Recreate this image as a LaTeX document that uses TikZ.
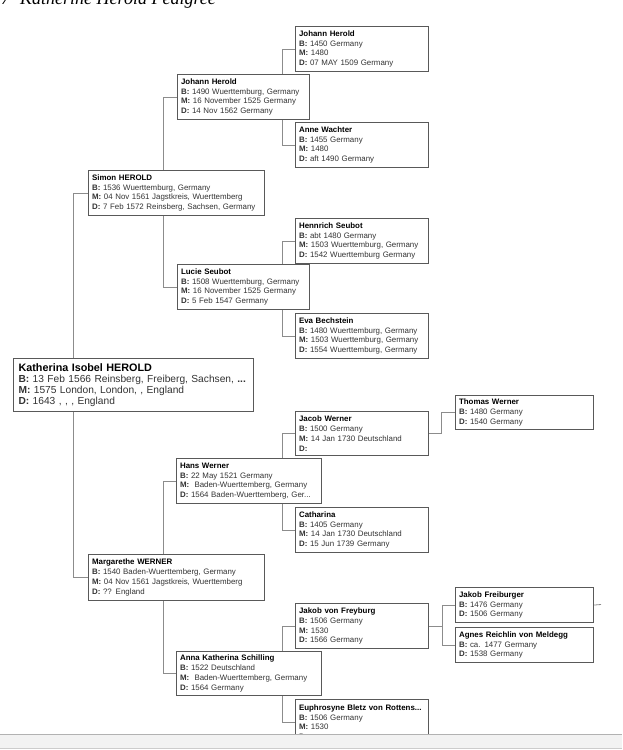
\documentclass[tikz,border=0pt]{standalone}
\usepackage{fontspec}
\setmainfont{Liberation Sans}
\newfontfamily\titlefont{Liberation Serif}
\usepackage{tikz}
\usetikzlibrary{backgrounds}
\usepackage[dvipsnames]{xcolor}

\tikzset{
    pbox/.style={draw=black!65,line width=1.1pt,fill=white,anchor=north west,
        align=left,inner xsep=3.5pt,inner ysep=0pt,text=black!80,
        font=\fontsize{7.9}{9.8}\selectfont},
    link/.style={draw=black!45,line width=0.8pt}
}
\newcommand{\nm}[1]{\textbf{\textcolor{black}{#1}}}
\newcommand{\lb}[1]{\textbf{#1:}}

\begin{document}
\begin{tikzpicture}[x=1pt,y=-1pt]
        \useasboundingbox (0,0) rectangle (622,750);
        \clip (0,0) rectangle (622,750);

        % title, cut at the top of the page
        \node[anchor=base west,inner sep=0pt,font=\titlefont\itshape\fontsize{18}{20}\selectfont]
            (title) at (1,4) {7\hspace{10pt}Katherine Herold Pedigree};

        \begin{scope}[every node/.style={pbox}]
            % generation 0
            \node[minimum width=240,minimum height=53,inner xsep=5pt,text width=230,
                font=\fontsize{10.2}{10.8}\selectfont] (K) at (13,358)
                {\nm{\fontsize{10.8}{11}\selectfont Katherina Isobel HEROLD}\\
                 \lb{B} 13 Feb 1566 Reinsberg, Freiberg, Sachsen, \textbf{...}\\
                 \lb{M} 1575 London, London, , England\\
                 \lb{D} 1643 , , , England};

            % generation 1
            \node[minimum width=176,minimum height=45,text width=169] (S1) at (88,170)
                {\nm{Simon HEROLD}\\ \lb{B} 1536 Wuerttemburg, Germany\\
                 \lb{M} 04 Nov 1561 Jagstkreis, Wuerttemberg\\
                 \lb{D} 7 Feb 1572 Reinsberg, Sachsen, Germany};
            \node[minimum width=176,minimum height=46,text width=169] (M1) at (88,554)
                {\nm{Margarethe WERNER}\\ \lb{B} 1540 Baden-Wuerttemberg, Germany\\
                 \lb{M} 04 Nov 1561 Jagstkreis, Wuerttemberg\\
                 \lb{D} ?? England};

            % generation 2
            \node[minimum width=132,minimum height=45,text width=125] (J2) at (177,74)
                {\nm{Johann Herold}\\ \lb{B} 1490 Wuerttemburg, Germany\\
                 \lb{M} 16 November 1525 Germany\\ \lb{D} 14 Nov 1562 Germany};
            \node[minimum width=132,minimum height=45,text width=125] (L2) at (177,264)
                {\nm{Lucie Seubot}\\ \lb{B} 1508 Wuerttemburg, Germany\\
                 \lb{M} 16 November 1525 Germany\\ \lb{D} 5 Feb 1547 Germany};
            \node[minimum width=145,minimum height=45,text width=138] (H2) at (176,458)
                {\nm{Hans Werner}\\ \lb{B} 22 May 1521 Germany\\
                 \lb{M}\ \ Baden-Wuerttemberg, Germany\\
                 \lb{D} 1564 Baden-Wuerttemberg, Ger...};
            \node[minimum width=145,minimum height=44,text width=138] (A2) at (176,651)
                {\nm{Anna Katherina Schilling}\\ \lb{B} 1522 Deutschland\\
                 \lb{M}\ \ Baden-Wuerttemberg, Germany\\ \lb{D} 1564 Germany};

            % generation 3
            \node[minimum width=133,minimum height=45,text width=126] (JH3) at (295,26)
                {\nm{Johann Herold}\\ \lb{B}\ 1450 Germany\\ \lb{M} 1480\\
                 \lb{D}\ 07 MAY 1509 Germany};
            \node[minimum width=133,minimum height=45,text width=126] (AW3) at (295,122)
                {\nm{Anne Wachter}\\ \lb{B}\ 1455 Germany\\ \lb{M} 1480\\
                 \lb{D}\ aft 1490 Germany};
            \node[minimum width=133,minimum height=45,text width=126] (HS3) at (295,218)
                {\nm{Hennrich Seubot}\\ \lb{B}\ abt 1480 Germany\\
                 \lb{M}\ 1503 Wuerttemburg, Germany\\ \lb{D}\ 1542 Wuerttemburg Germany};
            \node[minimum width=133,minimum height=45,text width=126] (EB3) at (295,313)
                {\nm{Eva Bechstein}\\ \lb{B}\ 1480 Wuerttemburg, Germany\\
                 \lb{M}\ 1503 Wuerttemburg, Germany\\ \lb{D}\ 1554 Wuerttemburg, Germany};
            \node[minimum width=133,minimum height=44,text width=126] (JW3) at (295,411)
                {\nm{Jacob Werner}\\ \lb{B}\ 1500 Germany\\
                 \lb{M}\ 14 Jan 1730 Deutschland\\ \lb{D}};
            \node[minimum width=133,minimum height=45,text width=126] (CA3) at (295,507)
                {\nm{Catharina}\\ \lb{B}\ 1405 Germany\\
                 \lb{M}\ 14 Jan 1730 Deutschland\\ \lb{D}\ 15 Jun 1739 Germany};
            \node[minimum width=133,minimum height=45,text width=126] (JF3) at (295,603)
                {\nm{Jakob von Freyburg}\\ \lb{B}\ 1506 Germany\\ \lb{M} 1530\\
                 \lb{D}\ 1566 Germany};
            \node[minimum width=133,minimum height=45,text width=126] (EU3) at (295,699)
                {\nm{Euphrosyne Bletz von Rottens...}\\ \lb{B}\ 1506 Germany\\
                 \lb{M} 1530\\ \lb{D}};

            % generation 4
            \node[minimum width=138,minimum height=34,text width=131] (TW4) at (455,395)
                {\nm{Thomas Werner}\\ \lb{B}\ 1480 Germany\\ \lb{D}\ 1540 Germany};
            \node[minimum width=138,minimum height=35,text width=131] (JB4) at (455,587)
                {\nm{Jakob Freiburger}\\ \lb{B}\ 1476 Germany\\ \lb{D}\ 1506 Germany};
            \node[minimum width=138,minimum height=35,text width=131] (AR4) at (455,627)
                {\nm{Agnes Reichlin von Meldegg}\\ \lb{B}\ ca. 1477 Germany\\
                 \lb{D}\ 1538 Germany};
        \end{scope}

        \begin{scope}[on background layer]
            \draw[link] (S1.west) -- ++(-15,0) |- (M1.west);
            \draw[link] (J2.west) -- ++(-14,0) |- (L2.west);
            \draw[link] (H2.west) -- ++(-13,0) |- (A2.west);
            \draw[link] (JH3.west) -- ++(-13,0) |- (AW3.west);
            \draw[link] (HS3.west) -- ++(-13,0) |- (EB3.west);
            \draw[link] (JW3.west) -- ++(-13,0) |- (CA3.west);
            \draw[link] (JF3.west) -- ++(-13,0) |- (EU3.west);
            \draw[link] (TW4.west) -- ++(-14,0) |- (JW3.east);
            \draw[link] (JB4.west) -- ++(-13,0) coordinate (fv) |- (AR4.west);
            \draw[link] (JF3.east) -- (JF3.east -| fv);
        \end{scope}
        \coordinate (more) at (601,604.5);
        \draw[link] (JB4.east) -- (more);

        % status bar at the foot of the page
        \fill[black!5] (0,734) rectangle (622,748);
        \draw[black!30,line width=0.8pt] (0,734) -- (622,734);
        \draw[black!20,line width=0.8pt] (0,748) -- (622,748);
\end{tikzpicture}
\end{document}
